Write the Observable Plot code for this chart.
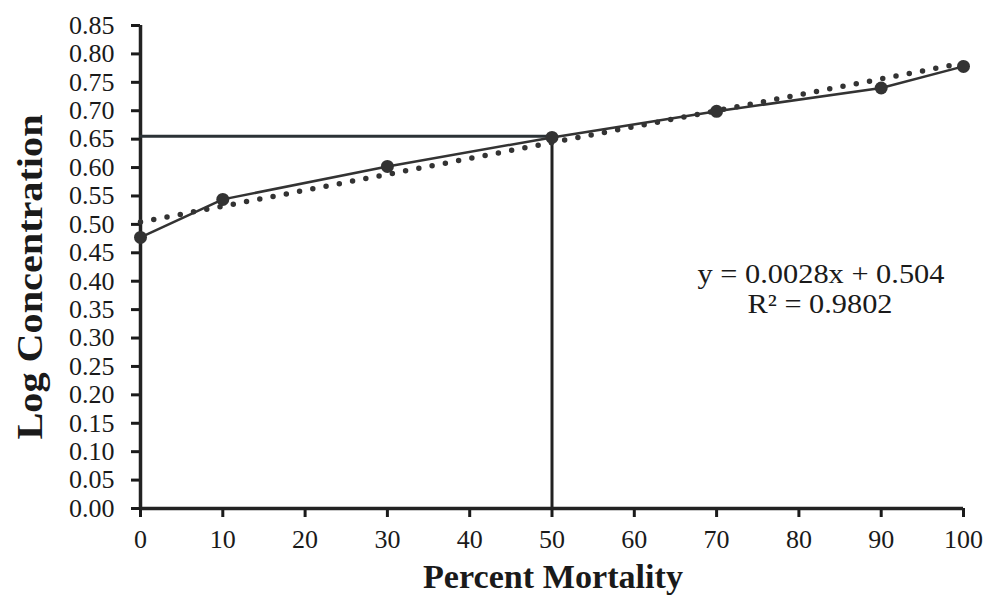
<!DOCTYPE html>
<html><head><meta charset="utf-8">
<script src="https://cdn.jsdelivr.net/npm/d3@7"></script>
<script src="https://cdn.jsdelivr.net/npm/@observablehq/plot@0.6"></script>
<style>body{margin:0;background:#fff;} svg{display:block;}</style>
</head><body><div id="chart"></div>
<script>
const mortality = [0, 10, 30, 50, 70, 90, 100];
const logConc = [0.477, 0.544, 0.602, 0.653, 0.699, 0.740, 0.778];
const slope = 0.0028, intercept = 0.504;
const trendX = [0, 100];
const lc50 = {x: 50, y: 0.655};
const xTicks = [0,10,20,30,40,50,60,70,80,90,100];
const yTicks = d3.range(0, 18).map(i => +(i*0.05).toFixed(2));
const eqLines = ["y = 0.0028x + 0.504", "R² = 0.9802"];

const pts = mortality.map((m,i)=>({x:m, y:logConc[i]}));
const trend = trendX.map(x=>({x, y: slope*x + intercept}));
const font = "'Liberation Serif', 'Times New Roman', serif";

const chart = Plot.plot({
  width: 985, height: 608,
  marginLeft: 140, marginRight: 22, marginTop: 25, marginBottom: 100,
  style: {fontFamily: font, fontSize: "26px", color: "#1a1a1a", background: "#fff"},
  x: {domain: [0,100]},
  y: {domain: [0,0.85]},
  marks: [
    Plot.axisX({ticks: xTicks, tickSize: 9, tickPadding: 12, tickFormat: d=>String(d), fontSize: 26, label: null, strokeWidth: 3}),
    Plot.axisY({ticks: yTicks, tickSize: 9, tickPadding: 17, tickFormat: d3.format(".2f"), fontSize: 26, label: null, strokeWidth: 3}),
    Plot.ruleY([0], {stroke: "#222", strokeWidth: 3.5}),
    Plot.ruleX([0], {stroke: "#222", strokeWidth: 3.5}),
    Plot.line([{x:0,y:lc50.y},{x:lc50.x,y:lc50.y}], {x:"x", y:"y", stroke:"#2b3236", strokeWidth: 3}),
    Plot.line([{x:lc50.x,y:0},{x:lc50.x,y:lc50.y}], {x:"x", y:"y", stroke:"#222", strokeWidth: 3}),
    Plot.line(trend, {x:"x", y:"y", stroke:"#333", strokeWidth: 5.5, strokeDasharray: "0,13.5", strokeLinecap: "round"}),
    Plot.line(pts, {x:"x", y:"y", stroke:"#333", strokeWidth: 2.5}),
    Plot.dot(pts, {x:"x", y:"y", r: 6.5, fill:"#333", stroke:"none"})
  ]
});
document.getElementById("chart").appendChild(chart);
const svg = d3.select(chart);
function addText(x, y, str, size, len, bold, rot) {
  const t = svg.append("text")
    .attr("transform", `translate(${x},${y})` + (rot ? " rotate(-90)" : ""))
    .attr("text-anchor","middle")
    .attr("font-family",font).attr("font-size",size).attr("fill","#1a1a1a")
    .attr("font-weight", bold ? "bold" : "normal")
    .text(str);
  if (len) t.attr("textLength", len).attr("lengthAdjust","spacingAndGlyphs");
  return t;
}
addText(42, 277, "Log Concentration", 36, 325, true, true);
addText(553, 588, "Percent Mortality", 34, 260, true, false);
addText(821, 283, eqLines[0], 27, 247, false, false);
addText(820, 313, eqLines[1], 27, 145, false, false);
</script></body></html>
